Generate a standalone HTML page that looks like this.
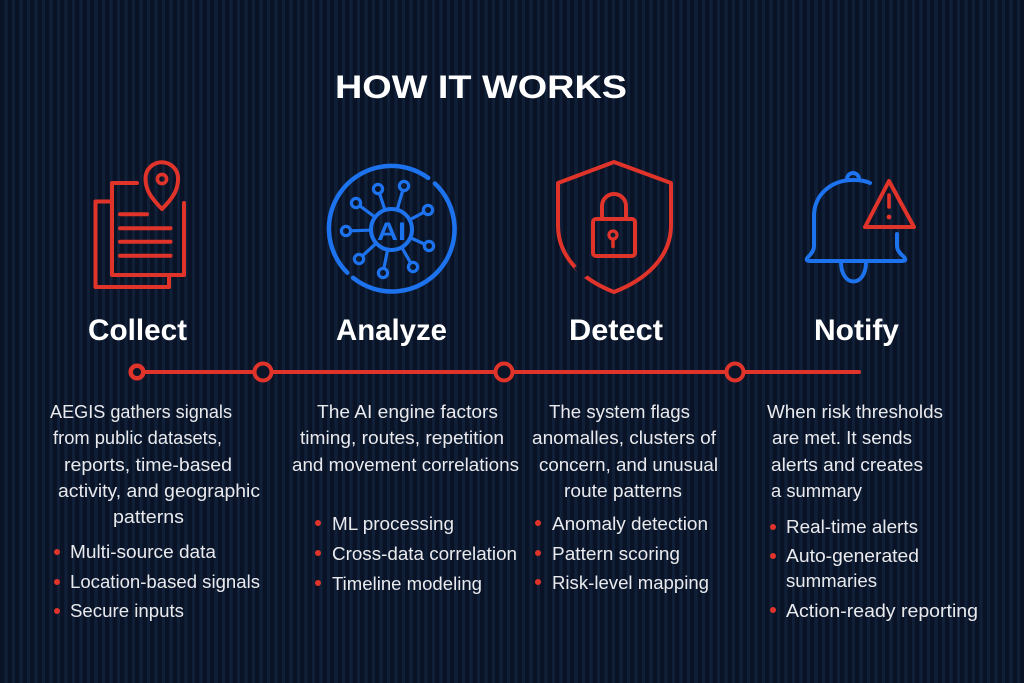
<!DOCTYPE html>
<html>
<head>
<meta charset="utf-8">
<style>
  html, body { margin: 0; padding: 0; }
  body {
    width: 1024px; height: 683px; overflow: hidden;
    background-color: #0b1528;
    background-image: repeating-linear-gradient(90deg, #0a1325 0px, #0a1325 4.5px, #112039 4.5px, #112039 7.5px);
  }
  svg { display: block; }
  text { font-family: "Liberation Sans", "DejaVu Sans", sans-serif; }
  .t { fill: #e9eaee; font-size: 18px; }
  .h { fill: #ffffff; font-size: 30px; font-weight: bold; }
</style>
</head>
<body>
<svg width="1024" height="683" viewBox="0 0 1024 683" xmlns="http://www.w3.org/2000/svg">
  <defs>
    <mask id="shieldGap">
      <rect x="0" y="0" width="1024" height="683" fill="#fff"/>
      <rect x="577.5" y="264.5" width="7" height="14" fill="#000" transform="rotate(-37 581 271.5)"/>
    </mask>
  </defs>

  <!-- Title -->
  <text x="335" y="98" font-size="32" font-weight="bold" fill="#ffffff" textLength="292" lengthAdjust="spacingAndGlyphs">HOW IT WORKS</text>

  <!-- Collect icon (documents + pin) -->
  <g fill="none" stroke="#e0342b" stroke-width="4" stroke-linecap="round" stroke-linejoin="round">
    <path d="M110 201.5 H95.5 V287 H169 V277"/>
    <path d="M137 183 H112 V275 H184 V203"/>
    <path d="M120 214.3 H147"/>
    <path d="M120 228.3 H170.5"/>
    <path d="M120 241.7 H170.5"/>
    <path d="M120 255.7 H170.5"/>
    <path d="M162 209 C150 197 145.5 189 145.5 178.5 A16.3 16.3 0 0 1 178.1 178.5 C178.1 189 174 197 162 209 Z"/>
    <circle cx="162" cy="179" r="4.6" stroke-width="3.6"/>
  </g>

  <!-- Analyze icon (AI) -->
  <g fill="none" stroke="#1d72ee" stroke-width="4.5" stroke-linecap="round">
    <path d="M434.9 183.5 A62.5 62.5 0 0 1 353.0 277.8"/>
    <path d="M347.3 272.7 A62.5 62.5 0 0 1 428.2 177.9"/>
    <circle cx="391.5" cy="229.5" r="20.5" stroke-width="4"/>
    <g stroke-width="3.2">
      <line x1="384.4" y1="208.2" x2="379.6" y2="193.7"/>
      <line x1="397.7" y1="207.9" x2="402.6" y2="190.8"/>
      <line x1="411.3" y1="218.9" x2="423.6" y2="212.4"/>
      <line x1="369" y1="230.2" x2="351" y2="230.8"/>
      <line x1="412.1" y1="238.5" x2="424.4" y2="244"/>
      <line x1="373.5" y1="216" x2="360" y2="206"/>
      <line x1="374.8" y1="244.6" x2="362.7" y2="255.6"/>
      <line x1="387.2" y1="251.6" x2="384" y2="268.1"/>
      <line x1="402.7" y1="249" x2="410.5" y2="262.7"/>
      <circle cx="378" cy="189" r="4.6"/>
      <circle cx="404" cy="186" r="4.6"/>
      <circle cx="428" cy="210" r="4.6"/>
      <circle cx="346" cy="231" r="4.6"/>
      <circle cx="429" cy="246" r="4.6"/>
      <circle cx="356" cy="203" r="4.6"/>
      <circle cx="359" cy="259" r="4.6"/>
      <circle cx="383" cy="273" r="4.6"/>
      <circle cx="413" cy="267" r="4.6"/>
    </g>
  </g>
  <text x="377" y="240" font-size="25" font-weight="bold" fill="#1d72ee" textLength="29" lengthAdjust="spacingAndGlyphs">AI</text>

  <!-- Detect icon (shield + lock) -->
  <g fill="none" stroke="#e0342b" stroke-width="4" stroke-linecap="round" stroke-linejoin="round">
    <path mask="url(#shieldGap)" d="M614 162 L671 183 V225 C671 258 645 280 614 292 C583 280 558 258 558 225 V183 Z"/>
    <rect x="593" y="219" width="42" height="37" rx="3" ry="3"/>
    <path d="M602 219 V206 A12 12 0 0 1 626 206 V219"/>
    <circle cx="613" cy="235" r="4" stroke-width="3.2"/>
    <path d="M613 239.5 V246.5" stroke-width="3.5"/>
  </g>

  <!-- Notify icon (bell + warning) -->
  <g fill="none" stroke="#1d72ee" stroke-width="4" stroke-linecap="round" stroke-linejoin="round">
    <path d="M847 179 A6 6 0 0 1 859 179"/>
    <path d="M897 234 V246 Q897 251 903 256 Q908 261 902 261 H810 Q804 261 809 256 Q814 251 814 246 V216 C814 194 832 180 853 180 C860 180 866 181 870 183"/>
    <path d="M841 262 C841 288 866 288 866 262"/>
  </g>
  <g fill="none" stroke="#e0342b" stroke-width="4" stroke-linecap="round" stroke-linejoin="round">
    <path d="M889 181 L914 227 H865 Z"/>
    <path d="M889 195 V207" stroke-width="3.6"/>
  </g>
  <circle cx="889" cy="217" r="2.4" fill="#e0342b"/>

  <!-- Headings -->
  <text class="h" x="88" y="340" textLength="99" lengthAdjust="spacingAndGlyphs">Collect</text>
  <text class="h" x="336" y="340" textLength="111" lengthAdjust="spacingAndGlyphs">Analyze</text>
  <text class="h" x="569" y="340" textLength="94" lengthAdjust="spacingAndGlyphs">Detect</text>
  <text class="h" x="814" y="340" textLength="85" lengthAdjust="spacingAndGlyphs">Notify</text>

  <!-- Timeline -->
  <line x1="137" y1="372" x2="859" y2="372" stroke="#e0342b" stroke-width="4" stroke-linecap="round"/>
  <g fill="#0b1528" stroke="#e0342b">
    <circle cx="137" cy="372" r="6.3" stroke-width="4.5"/>
    <circle cx="263" cy="372" r="8.5" stroke-width="4"/>
    <circle cx="504" cy="372" r="8.5" stroke-width="4"/>
    <circle cx="735" cy="372" r="8.5" stroke-width="4"/>
  </g>

  <!-- Column 1 -->
  <text class="t" x="50" y="418" textLength="182" lengthAdjust="spacingAndGlyphs">AEGIS gathers signals</text>
  <text class="t" x="53" y="444" textLength="169" lengthAdjust="spacingAndGlyphs">from public datasets,</text>
  <text class="t" x="64" y="471" textLength="168" lengthAdjust="spacingAndGlyphs">reports, time-based</text>
  <text class="t" x="58" y="497" textLength="202" lengthAdjust="spacingAndGlyphs">activity, and geographic</text>
  <text class="t" x="113" y="523" textLength="71" lengthAdjust="spacingAndGlyphs">patterns</text>
  <g fill="#e0342b">
    <circle cx="57" cy="552" r="3"/>
    <circle cx="57" cy="582" r="3"/>
    <circle cx="57" cy="611" r="3"/>
  </g>
  <text class="t" x="70" y="558" textLength="146" lengthAdjust="spacingAndGlyphs">Multi-source data</text>
  <text class="t" x="70" y="588" textLength="190" lengthAdjust="spacingAndGlyphs">Location-based signals</text>
  <text class="t" x="70" y="617" textLength="114" lengthAdjust="spacingAndGlyphs">Secure inputs</text>

  <!-- Column 2 -->
  <text class="t" x="317" y="418" textLength="181" lengthAdjust="spacingAndGlyphs">The AI engine factors</text>
  <text class="t" x="300" y="444" textLength="204" lengthAdjust="spacingAndGlyphs">timing, routes, repetition</text>
  <text class="t" x="292" y="471" textLength="227" lengthAdjust="spacingAndGlyphs">and movement correlations</text>
  <g fill="#e0342b">
    <circle cx="318" cy="523" r="3"/>
    <circle cx="318" cy="553" r="3"/>
    <circle cx="318" cy="583" r="3"/>
  </g>
  <text class="t" x="332" y="530" textLength="122" lengthAdjust="spacingAndGlyphs">ML processing</text>
  <text class="t" x="332" y="560" textLength="185" lengthAdjust="spacingAndGlyphs">Cross-data correlation</text>
  <text class="t" x="332" y="590" textLength="150" lengthAdjust="spacingAndGlyphs">Timeline modeling</text>

  <!-- Column 3 -->
  <text class="t" x="549" y="418" textLength="141" lengthAdjust="spacingAndGlyphs">The system flags</text>
  <text class="t" x="532" y="444" textLength="184" lengthAdjust="spacingAndGlyphs">anomalles, clusters of</text>
  <text class="t" x="539" y="471" textLength="179" lengthAdjust="spacingAndGlyphs">concern, and unusual</text>
  <text class="t" x="564" y="497" textLength="118" lengthAdjust="spacingAndGlyphs">route patterns</text>
  <g fill="#e0342b">
    <circle cx="538" cy="523" r="3"/>
    <circle cx="538" cy="553" r="3"/>
    <circle cx="538" cy="582" r="3"/>
  </g>
  <text class="t" x="552" y="530" textLength="156" lengthAdjust="spacingAndGlyphs">Anomaly detection</text>
  <text class="t" x="552" y="560" textLength="128" lengthAdjust="spacingAndGlyphs">Pattern scoring</text>
  <text class="t" x="552" y="589" textLength="157" lengthAdjust="spacingAndGlyphs">Risk-level mapping</text>

  <!-- Column 4 -->
  <text class="t" x="767" y="418" textLength="176" lengthAdjust="spacingAndGlyphs">When risk thresholds</text>
  <text class="t" x="772" y="444" textLength="140" lengthAdjust="spacingAndGlyphs">are met. It sends</text>
  <text class="t" x="771" y="471" textLength="152" lengthAdjust="spacingAndGlyphs">alerts and creates</text>
  <text class="t" x="771" y="497" textLength="91" lengthAdjust="spacingAndGlyphs">a summary</text>
  <g fill="#e0342b">
    <circle cx="773" cy="527" r="3"/>
    <circle cx="773" cy="556" r="3"/>
    <circle cx="773" cy="610" r="3"/>
  </g>
  <text class="t" x="786" y="533" textLength="132" lengthAdjust="spacingAndGlyphs">Real-time alerts</text>
  <text class="t" x="786" y="562" textLength="133" lengthAdjust="spacingAndGlyphs">Auto-generated</text>
  <text class="t" x="786" y="587" textLength="91" lengthAdjust="spacingAndGlyphs">summaries</text>
  <text class="t" x="786" y="617" textLength="192" lengthAdjust="spacingAndGlyphs">Action-ready reporting</text>
</svg>
</body>
</html>
